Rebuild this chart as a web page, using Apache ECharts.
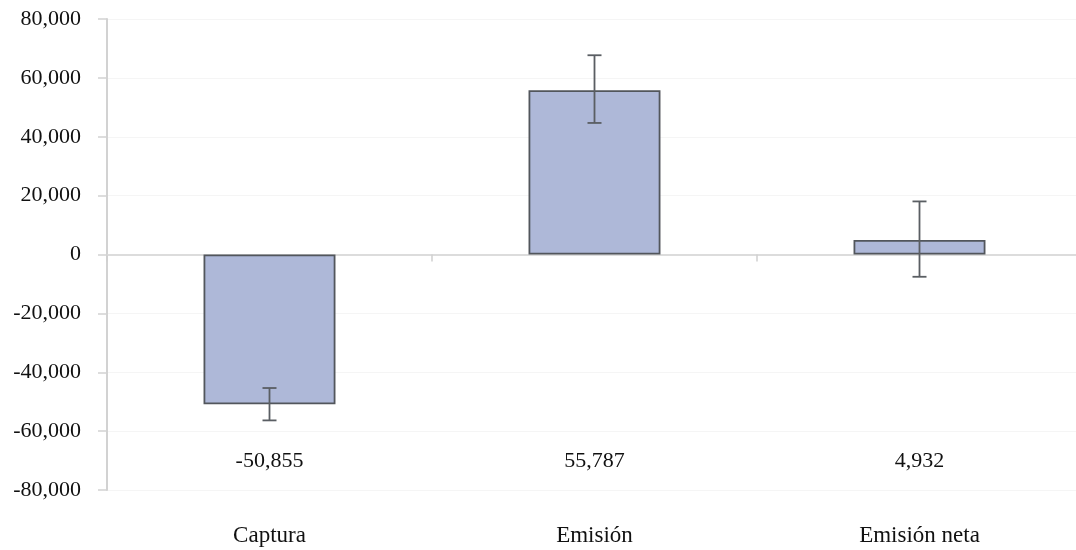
<!DOCTYPE html>
<html>
<head>
<meta charset="utf-8">
<script src="https://cdn.jsdelivr.net/npm/echarts@6/dist/echarts.min.js"></script>
<style>
  html, body { margin: 0; padding: 0; background: #fff; }
  #chart { width: 1076px; height: 550px; }
</style>
</head>
<body>
<div id="chart"></div>
<script>
// Carbon balance: capture, emission and net emission with uncertainty ranges
const categories = ['Captura', 'Emisión', 'Emisión neta'];
const values = [-50855, 55787, 4932];
const errLow = [5500, 11100, 12500];   // distance below the value
const errHigh = [5500, 11900, 13100];  // distance above the value
const yTicks = { min: -80000, max: 80000, interval: 20000 };
const valueLabelLevel = -70000;        // row where the totals are printed

const FONT = '"Liberation Serif", "DejaVu Serif", serif';
const fmt = v => v.toLocaleString('en-US');

const chart = echarts.init(document.getElementById('chart'));

chart.setOption({
  animation: false,
  backgroundColor: '#fff',
  grid: { left: 107, right: -6, top: 19, bottom: 60, containLabel: false, outerBoundsMode: 'none' },
  xAxis: [
    {
      // category names along the bottom edge
      type: 'category',
      data: categories,
      position: 'bottom',
      axisLine: { show: false, onZero: false },
      axisTick: { show: false },
      axisLabel: { margin: 34, fontFamily: FONT, fontSize: 23, color: '#111' }
    },
    {
      // zero baseline with boundary ticks
      type: 'category',
      data: categories,
      position: 'bottom',
      axisLine: { show: true, onZero: true, lineStyle: { color: '#dcdcdc', width: 2 } },
      axisTick: { show: true, length: 7, lineStyle: { color: '#cfcfcf', width: 1.5 } },
      axisLabel: { show: false }
    }
  ],
  yAxis: {
    type: 'value',
    min: yTicks.min, max: yTicks.max, interval: yTicks.interval,
    axisLine: { show: true, lineStyle: { color: '#d2d2d2', width: 2 } },
    axisTick: { show: true, length: 9, lineStyle: { color: '#d2d2d2', width: 1.5 } },
    axisLabel: { margin: 26, fontFamily: FONT, fontSize: 22, color: '#111', formatter: v => fmt(v) },
    splitLine: { show: true, lineStyle: { color: '#f5f5f5', width: 1 } }
  },
  series: [
    {
      type: 'bar',
      xAxisIndex: 0,
      data: values,
      barWidth: '40.6%',
      itemStyle: { color: '#aeb8d8', borderColor: '#52565c', borderWidth: 1.8 }
    },
    {
      // error bars plus the printed totals
      type: 'custom',
      xAxisIndex: 0,
      data: values.map((v, i) => [i, v - errLow[i], v + errHigh[i], v]),
      renderItem: (params, api) => {
        const i = api.value(0);
        const lo = api.coord([i, api.value(1)]);
        const hi = api.coord([i, api.value(2)]);
        const lab = api.coord([i, valueLabelLevel]);
        const half = 7;
        const style = { stroke: '#5a5e63', lineWidth: 1.8 };
        return {
          type: 'group',
          children: [
            { type: 'line', shape: { x1: lo[0], y1: lo[1], x2: hi[0], y2: hi[1] }, style },
            { type: 'line', shape: { x1: lo[0] - half, y1: lo[1], x2: lo[0] + half, y2: lo[1] }, style },
            { type: 'line', shape: { x1: hi[0] - half, y1: hi[1], x2: hi[0] + half, y2: hi[1] }, style },
            {
              type: 'text',
              style: {
                x: lab[0], y: lab[1] + 1,
                text: fmt(api.value(3)),
                align: 'center', verticalAlign: 'middle',
                font: '22px ' + FONT, fill: '#111'
              }
            }
          ]
        };
      },
      z: 5
    }
  ]
});
</script>
</body>
</html>
